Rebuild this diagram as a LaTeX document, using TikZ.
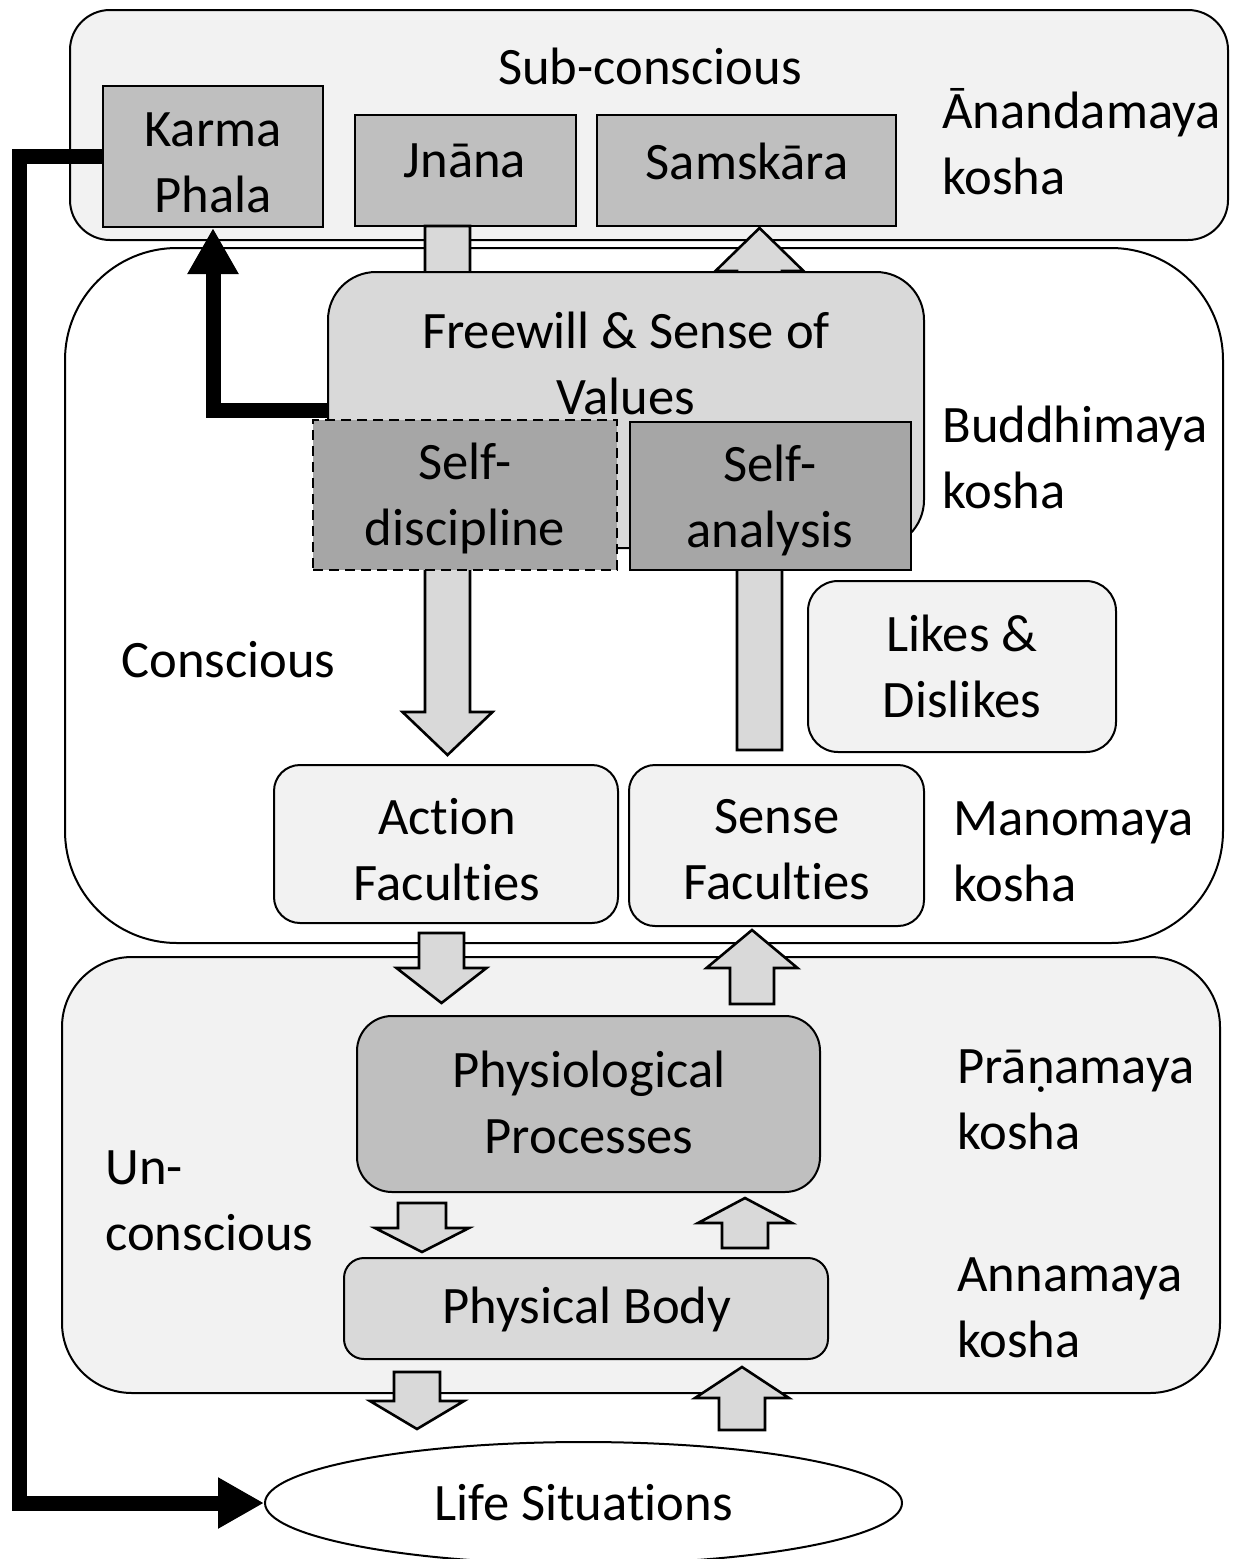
\documentclass[tikz,border=0pt]{standalone}
\usepackage{fontspec}
\setmainfont{Carlito}[Ligatures=NoCommon]
\usetikzlibrary{fit,arrows.meta,shapes.geometric}
\definecolor{gA}{HTML}{F2F2F2}
\definecolor{gB}{HTML}{BFBFBF}
\definecolor{gC}{HTML}{A6A6A6}
\definecolor{gD}{HTML}{D9D9D9}
\newcommand\blkarrow[6]{% x, tail y, head-base y, tip y, half shaft, half head
  \draw[blk] ({#1-#5},#2) -- ({#1-#5},#3) -- ({#1-#6},#3) -- (#1,#4) -- ({#1+#6},#3) -- ({#1+#5},#3) -- ({#1+#5},#2) -- cycle;}
\begin{document}
\begin{tikzpicture}[x=0.5pt,y=-0.5pt,
  every node/.style={font=\fontsize{26.3}{33}\selectfont, align=center, inner sep=0pt},
  layerbox/.style={draw=black, line width=1pt, fill=#1},
  sqbox/.style={draw=black, line width=1pt, fill=gB},
  selfbox/.style={draw=black, line width=1.2pt, fill=gC},
  softbox/.style={draw=black, line width=1pt, fill=#1},
  blk/.style={draw=black, line width=1.3pt, fill=gD, line join=miter},
  fb/.style={line width=7.5pt, line join=miter, -{Triangle[width=24pt,length=23pt]}},
  lbl/.style={anchor=west, align=left}]
\useasboundingbox (0,0) rectangle (1237,1559);
\fill[white] (0,0) rectangle (1237,1559);

% layers
\node[layerbox=gA, rounded corners=20pt, fit={(70,10) (1228,240)}] (anandabox) {};
\node[layerbox=white, rounded corners=56pt, fit={(65,248) (1223,943)}] (buddhibox) {};
\node[layerbox=gA, rounded corners=35pt, fit={(62,957) (1220,1393)}] (annabox) {};

\node (subcon) at (650,66) {Sub-conscious};
\node[lbl] (anandalbl) at (942,142) {Ānandamaya\\kosha};
\node[lbl] (buddhilbl) at (942,457) {Buddhimaya\\kosha};
\node[lbl] (manolbl) at (953,852) {Manomaya\\kosha};
\node[lbl] (pranalbl) at (957,1100) {Prāṇamaya\\kosha};
\node[lbl] (annalbl) at (957,1308) {Annamaya\\kosha};
\node[lbl] (conscious) at (121,660) {Conscious};
\node[lbl] (uncon) at (105,1201) {Un-\\conscious};

% top boxes
\node[sqbox, fit={(103,86) (323,227)}] (karma) {};
\node (karmatext) at (213,163) {Karma\\Phala};
\node[sqbox, fit={(355,115) (576,226)}] (jnana) {};
\node (jnanatext) at (465,161) {Jnāna};
\node[sqbox, fit={(597,115) (896,226)}] (samskara) {};
\node (samskaratext) at (747,161) {Samskāra};

% arrows partly hidden behind Freewill
\blkarrow{447.5}{226}{712}{755}{22.5}{45}
\blkarrow{759.5}{750}{271}{228}{22.5}{44}

% freewill
\node[softbox=gD, rounded corners=24pt, fit={(328,272) (924,548)}] (freewill) {};
\node (freewilltext) at (626,363) {Freewill \& Sense of\\Values};
\node[selfbox, dashed, dash pattern=on 5pt off 3pt, fit={(313,420) (617,570)}] (selfdis) {};
\node (selfdistext) at (465,498) {Self-\\discipline};
\node[selfbox, fit={(630,422) (911,570)}] (selfana) {};
\node (selfanatext) at (770,500) {Self-\\analysis};

\node[softbox=gA, rounded corners=15pt, fit={(808,581) (1116,752)}] (likes) {};
\node (likestext) at (962,666) {Likes \&\\Dislikes};
\node[softbox=gA, rounded corners=13pt, fit={(274,765) (618,923)}] (action) {};
\node (actiontext) at (447,850) {Action\\Faculties};
\node[softbox=gA, rounded corners=13pt, fit={(629,765) (924,926)}] (sense) {};
\node (sensetext) at (777,850) {Sense\\Faculties};

% lower block arrows
\blkarrow{441.5}{933}{968}{1003}{22.5}{45}
\blkarrow{752}{1004}{968}{930}{22}{45.5}
\blkarrow{422}{1203}{1228}{1252}{24}{47}
\blkarrow{745}{1248}{1223}{1198}{23}{47}
\blkarrow{417}{1372}{1401}{1429}{23}{47}
\blkarrow{742}{1430}{1398}{1367}{23}{47}

\node[softbox=gB, rounded corners=17.5pt, fit={(357,1016) (820,1192)}] (physio) {};
\node (physiotext) at (589,1102) {Physiological\\Processes};
\node[softbox=gD, rounded corners=10pt, fit={(344,1258) (828,1359)}] (body) {};
\node (bodytext) at (587,1309) {Physical Body};

\node[ellipse, draw=black, line width=1pt, fill=white, minimum width=318.5pt, minimum height=61pt] (life) at (583.5,1503) {Life Situations};

% thick feedback connectors
\draw[fb] (karma.west) -- (19,156.5) |- (life.west);
\draw[fb] (freewill.west) -| (karma.south);
\end{tikzpicture}
\end{document}
